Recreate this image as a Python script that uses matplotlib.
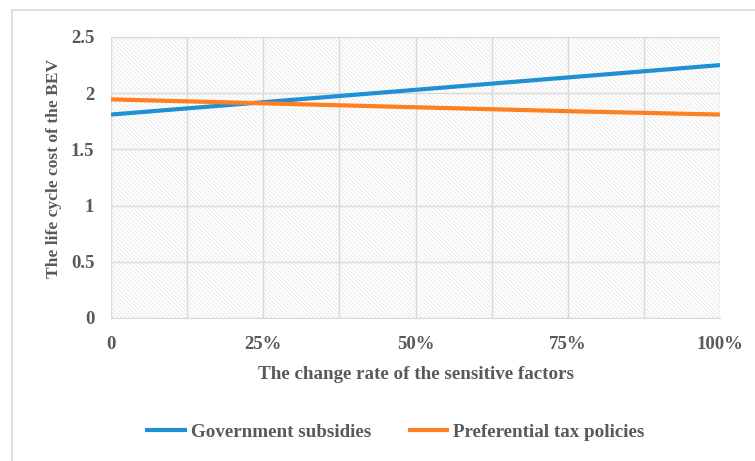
import numpy as np
import matplotlib
matplotlib.use("Agg")
import matplotlib.pyplot as plt
from matplotlib.patches import Rectangle

rate = [0, 0.25, 0.5, 0.75, 1.0]
subsidies = [1.81, 1.92, 2.03, 2.14, 2.25]
tax = [1.945, 1.91, 1.875, 1.84, 1.81]
xtick_vals = [0, 0.25, 0.5, 0.75, 1.0]
xtick_labels = ["0", "25%", "50%", "75%", "100%"]

plt.rcParams['font.family'] = ['Liberation Serif', 'DejaVu Serif']
plt.rcParams['font.weight'] = 'bold'
plt.rcParams['hatch.linewidth'] = 0.5
txt = '#595959'
grid = '#d9d9d9'

fig = plt.figure(figsize=(7.55, 4.61), dpi=100)
fig.patches.append(Rectangle((12 / 755, -0.1), 1.0, 1 - 10 / 461 + 0.1,
                             transform=fig.transFigure, fill=False,
                             edgecolor='#d9d9d9', lw=1.2))

ax = fig.add_axes([111 / 755, 1 - 318 / 461, 609 / 755, 281 / 461])
ax.add_patch(Rectangle((0, 0), 1, 1, transform=ax.transAxes, facecolor='white',
                       hatch='\\' * 8, edgecolor='#e2e2e2', lw=0, zorder=0))

ax.plot(rate, subsidies, color='#1f8fd6', lw=3, label='Government subsidies',
        solid_capstyle='butt', zorder=3)
ax.plot(rate, tax, color='#ff7f1e', lw=3, label='Preferential tax policies',
        solid_capstyle='butt', zorder=3)

ax.set_xlim(0, 1)
ax.set_ylim(0, 2.5)
ax.set_xticks(xtick_vals)
ax.set_xticklabels(xtick_labels)
ax.set_xticks(np.arange(0.125, 1, 0.25), minor=True)
ax.set_yticks([0, 0.5, 1, 1.5, 2, 2.5])
ax.set_yticklabels(["0", "0.5", "1", "1.5", "2", "2.5"])
ax.grid(True, which='both', color=grid, lw=1, zorder=1)
ax.set_axisbelow(True)
ax.tick_params(which='both', length=0, labelsize=13.5, labelcolor=txt)
ax.tick_params(axis='x', pad=13)
ax.tick_params(axis='y', pad=12)
for s in ['top', 'right', 'left']:
    ax.spines[s].set_visible(False)
ax.spines['bottom'].set_color(grid)

ax.set_xlabel('The change rate of the sensitive factors', fontsize=13.7,
              color=txt, fontweight='bold', labelpad=9)
ax.set_ylabel('The life cycle cost of the BEV', fontsize=12.6,
              color=txt, fontweight='bold')
ax.yaxis.set_label_coords(-0.08, 0.534)

leg = fig.legend(loc='center', bbox_to_anchor=(395 / 755, 1 - 432 / 461), ncol=2,
                 frameon=False, fontsize=13.7, handlelength=2.2, columnspacing=1.9,
                 handletextpad=0.2)
for t in leg.get_texts():
    t.set_color(txt)

fig.savefig('out.png', dpi=100)
